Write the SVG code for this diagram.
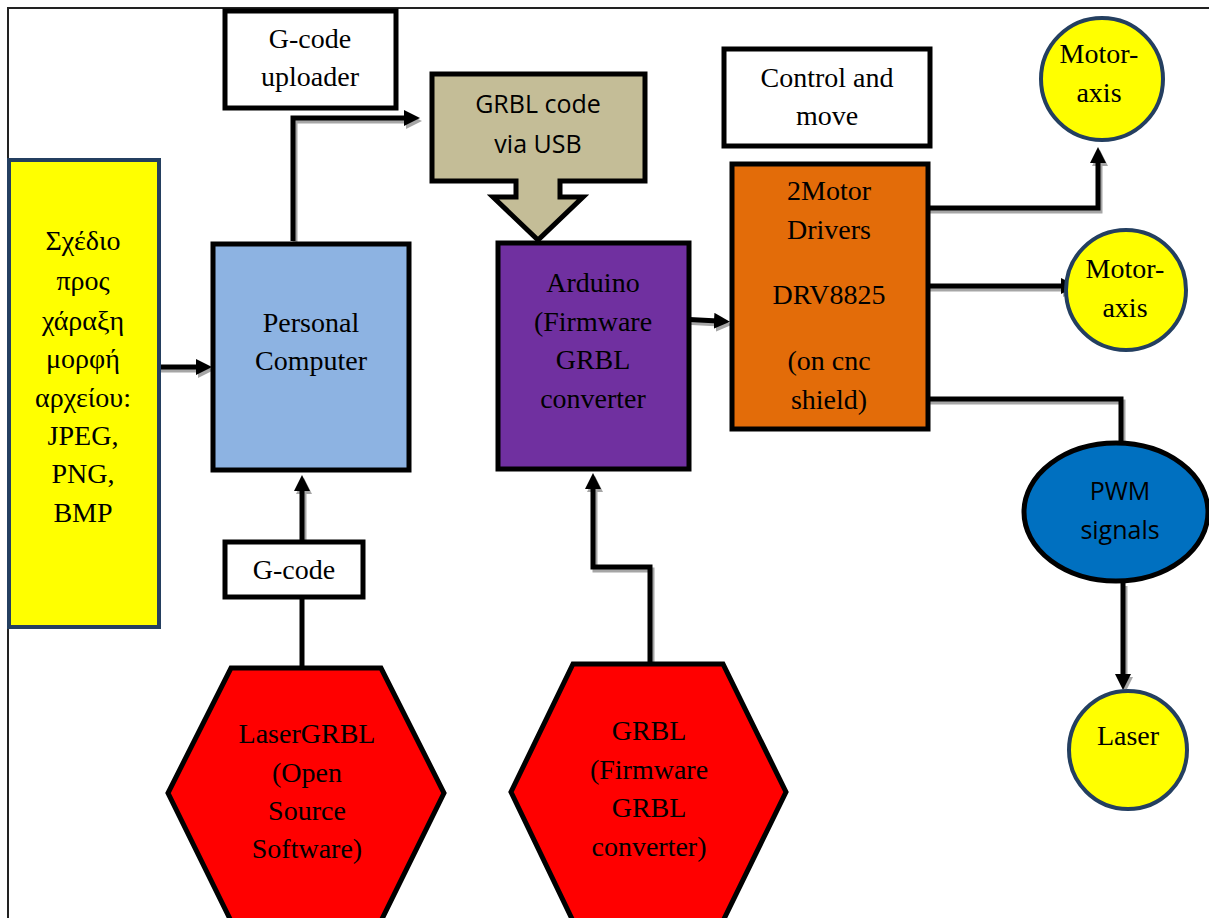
<svg xmlns="http://www.w3.org/2000/svg" width="1209" height="918" viewBox="0 0 1209 918">
<style>
.box{stroke:#000;stroke-width:5}
.yb{stroke:#243F60;stroke-width:4}
.t{font-family:"Liberation Serif","Times New Roman",serif;font-size:28px;fill:#000;text-anchor:middle}
.s{font-family:"Open Sans","Liberation Sans",sans-serif;font-size:25px;fill:#000;text-anchor:middle}
.c{fill:none;stroke:#000;stroke-width:5;stroke-linejoin:miter}
.sh{fill:none;stroke:#a6a6a6;stroke-width:5}
</style>
<defs>
<marker id="ah" markerUnits="userSpaceOnUse" markerWidth="18" markerHeight="18" refX="4" refY="8" orient="auto"><path d="M0,0 L16,8 L0,16 z" fill="#000"/></marker>
<marker id="ahs" markerUnits="userSpaceOnUse" markerWidth="18" markerHeight="18" refX="4" refY="8" orient="auto"><path d="M0,0 L16,8 L0,16 z" fill="#a6a6a6"/></marker>
</defs>
<rect width="1209" height="918" fill="#fff"/>
<path d="M7,8 H1209 M8,8 V918" stroke="#222" stroke-width="2" fill="none"/>

<g id="connectors">
  <g transform="translate(2,3)">
    <path class="sh" d="M293,241 V118 H408" marker-end="url(#ahs)"/>
    <path class="sh" d="M150,367 H200" marker-end="url(#ahs)"/>
    <path class="sh" d="M302,540 V487" marker-end="url(#ahs)"/>
    <path class="sh" d="M650,663 V567 H593 V485" marker-end="url(#ahs)"/>
    <path class="sh" d="M680,319 L718,321" marker-end="url(#ahs)"/>
    <path class="sh" d="M928,208 H1098 V159" marker-end="url(#ahs)"/>
    <path class="sh" d="M928,286 H1065" marker-end="url(#ahs)"/>
    <path class="sh" d="M928,399 H1121 V443"/>
    <path class="sh" d="M1123,583 V678" marker-end="url(#ahs)"/>
  </g>
  <path class="c" d="M293,241 V118 H408" marker-end="url(#ah)"/>
  <path class="c" d="M150,367 H200" marker-end="url(#ah)"/>
  <path class="c" d="M302,540 V487" marker-end="url(#ah)"/>
  <path class="c" d="M302,668 V598"/>
  <path class="c" d="M650,663 V567 H593 V485" marker-end="url(#ah)"/>
  <path class="c" d="M680,319 L718,321" marker-end="url(#ah)"/>
  <path class="c" d="M928,208 H1098 V159" marker-end="url(#ah)"/>
  <path class="c" d="M928,286 H1065" marker-end="url(#ah)"/>
  <path class="c" d="M928,399 H1121 V443"/>
  <path class="c" d="M1123,583 V678" marker-end="url(#ah)"/>
</g>

<g id="gcode-uploader">
  <rect class="box" x="225" y="11" width="171" height="97" fill="#fff"/>
  <text class="t" x="310" y="48">G-code</text>
  <text class="t" x="310" y="86">uploader</text>
</g>

<g id="gcode">
  <rect class="box" x="225" y="542" width="138" height="55" fill="#fff"/>
  <text class="t" x="294" y="579">G-code</text>
</g>

<g id="grbl-usb">
  <path class="box" d="M432,74 H645 V181 H560 V197 H583 L538,240 L493,197 H516 V181 H432 Z" fill="#C4BD97"/>
  <text class="s" x="538" y="113">GRBL code</text>
  <text class="s" x="538" y="153">via USB</text>
</g>

<g id="control-move">
  <rect class="box" x="724" y="49" width="206" height="97" fill="#fff"/>
  <text class="t" x="827" y="87">Control and</text>
  <text class="t" x="827" y="125">move</text>
</g>

<g id="design">
  <rect class="yb" x="9" y="160" width="150" height="467" fill="#FFFF00"/>
  <text class="t" x="83" y="250">Σχέδιο</text>
  <text class="t" x="83" y="290">προς</text>
  <text class="t" x="83" y="330">χάραξη</text>
  <text class="t" x="83" y="368">μορφή</text>
  <text class="t" x="83" y="407">αρχείου:</text>
  <text class="t" x="83" y="445">JPEG,</text>
  <text class="t" x="83" y="483">PNG,</text>
  <text class="t" x="83" y="522">BMP</text>
</g>

<g id="pc">
  <rect class="box" x="213" y="244" width="196" height="226" fill="#8DB3E2"/>
  <text class="t" x="311" y="332">Personal</text>
  <text class="t" x="311" y="370">Computer</text>
</g>

<g id="arduino">
  <rect class="box" x="498" y="243" width="191" height="226" fill="#7030A0"/>
  <text class="t" x="593" y="292">Arduino</text>
  <text class="t" x="593" y="331">(Firmware</text>
  <text class="t" x="593" y="369">GRBL</text>
  <text class="t" x="593" y="408">converter</text>
</g>

<g id="drivers">
  <rect class="box" x="732" y="164" width="196" height="265" fill="#E36C09"/>
  <text class="t" x="829" y="200">2Motor</text>
  <text class="t" x="829" y="239">Drivers</text>
  <text class="t" x="829" y="304">DRV8825</text>
  <text class="t" x="829" y="370">(on cnc</text>
  <text class="t" x="829" y="409">shield)</text>
</g>

<g id="motor1">
  <circle class="yb" cx="1102" cy="79" r="61" fill="#FFFF00"/>
  <text class="t" x="1099" y="63">Motor-</text>
  <text class="t" x="1099" y="102">axis</text>
</g>

<g id="motor2">
  <circle class="yb" cx="1126" cy="290" r="60" fill="#FFFF00"/>
  <text class="t" x="1125" y="278">Motor-</text>
  <text class="t" x="1125" y="317">axis</text>
</g>

<g id="pwm">
  <ellipse class="box" cx="1116" cy="512" rx="92" ry="69" fill="#0070C0"/>
  <text class="s" x="1120" y="500">PWM</text>
  <text class="s" x="1120" y="539">signals</text>
</g>

<g id="laser">
  <circle class="yb" cx="1128" cy="750" r="59" fill="#FFFF00"/>
  <text class="t" x="1128" y="745">Laser</text>
</g>

<g id="lasergrbl">
  <polygon class="box" points="231,668 381,668 444,793 381,921 231,921 168,793" fill="#FF0000"/>
  <text class="t" x="307" y="743">LaserGRBL</text>
  <text class="t" x="307" y="782">(Open</text>
  <text class="t" x="307" y="820">Source</text>
  <text class="t" x="307" y="858">Software)</text>
</g>

<g id="grbl">
  <polygon class="box" points="573,664 723,664 786,792 723,921 573,921 511,792" fill="#FF0000"/>
  <text class="t" x="649" y="740">GRBL</text>
  <text class="t" x="649" y="779">(Firmware</text>
  <text class="t" x="649" y="817">GRBL</text>
  <text class="t" x="649" y="856">converter)</text>
</g>
</svg>
